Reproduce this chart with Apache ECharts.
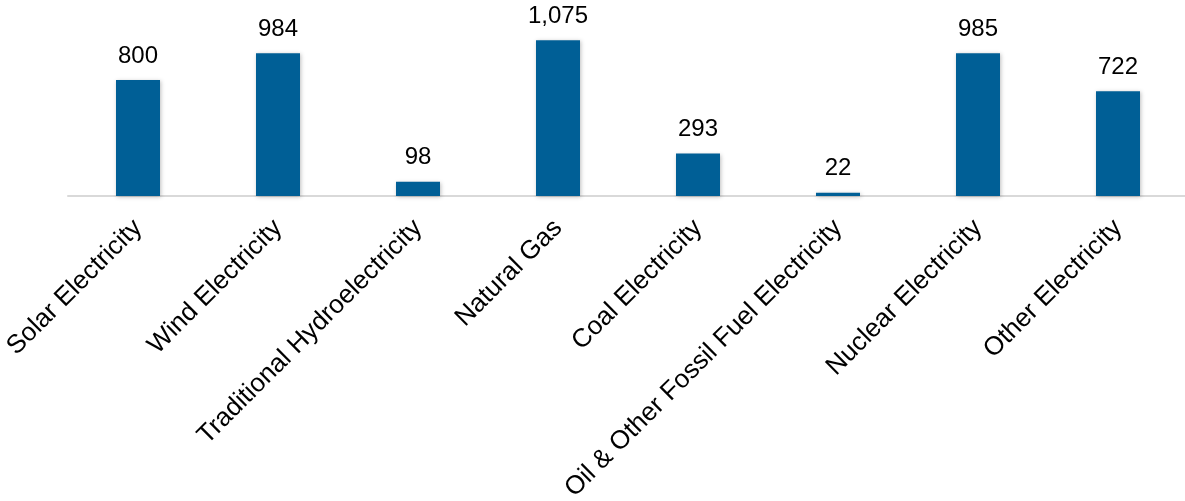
<!DOCTYPE html>
<html><head><meta charset="utf-8">
<script src="https://cdn.jsdelivr.net/npm/echarts@6/dist/echarts.min.js"></script>
<style>html,body{margin:0;padding:0;background:#fff}#c{width:1185px;height:501px}</style>
</head><body><div id="c"></div>
<script>
const categories = ["Solar Electricity","Wind Electricity","Traditional Hydroelectricity","Natural Gas","Coal Electricity","Oil & Other Fossil Fuel Electricity","Nuclear Electricity","Other Electricity"];
const values = [800, 984, 98, 1075, 293, 22, 985, 722];

const chart = echarts.init(document.getElementById('c'), null, {renderer:'canvas'});
chart.setOption({
  animation:false,
  grid:{left:68, top:22, width:1120, height:174, containLabel:false, outerBoundsMode:'none'},
  xAxis:{
    type:'category', data:categories,
    axisLine:{show:true, lineStyle:{color:'#d9d9d9', width:2}},
    axisTick:{show:false},
    axisLabel:{rotate:45, interval:0, margin:28, color:'#000', fontSize:26, fontFamily:'Liberation Sans, Arial, sans-serif'}
  },
  yAxis:{type:'value', min:0, max:1200, show:false, splitLine:{show:false}},
  series:[{
    type:'bar', data:values, barWidth:44,
    itemStyle:{color:'#005f96', shadowColor:'rgba(0,0,0,0.25)', shadowBlur:4, shadowOffsetX:1, shadowOffsetY:1},
    label:{show:true, position:'top', distance:12, color:'#000', fontSize:24, fontFamily:'Liberation Sans, Arial, sans-serif',
      formatter:p=>p.value.toLocaleString('en-US')}
  }]
});
</script></body></html>
